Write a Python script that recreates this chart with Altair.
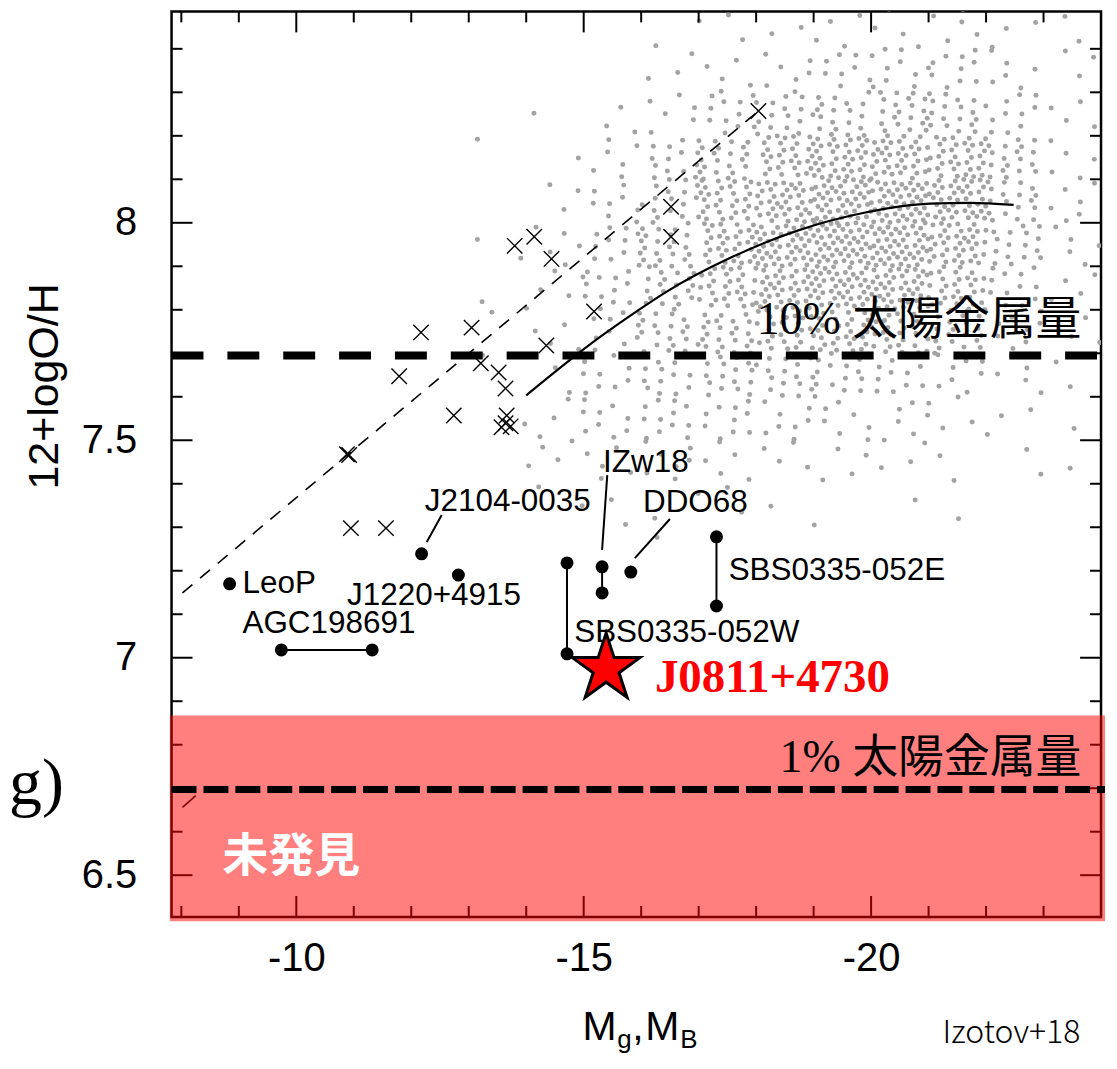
import altair as alt
import pandas as pd

# ---------------- plot geometry ----------------
W, H = 932, 908
X_MIN, X_MAX = -24.0, -7.83
Y_MIN, Y_MAX = 6.404, 8.486

SANS = "Liberation Sans"
SERIF = "Liberation Serif, Noto Sans CJK JP"
CJK = "Noto Sans CJK JP"

# ---------------- axis ticks ----------------
X_MAJOR = [-10, -15, -20]
X_MINOR = [-8, -9, -11, -12, -13, -14, -16, -17, -18, -19, -21, -22, -23]
Y_MAJOR = [6.5, 7.0, 7.5, 8.0]
Y_MINOR = [6.6, 6.7, 6.8, 6.9, 7.1, 7.2, 7.3, 7.4, 7.6, 7.7, 7.8, 7.9, 8.1, 8.2, 8.3, 8.4]

# ---------------- grey galaxy cloud: estimated counts per cell ----------------
# cells are 1 mag wide (from left edge toward brighter) and 0.1 dex high (from bottom edge)
CLOUD_X_EDGES = [-13, -14, -15, -16, -17, -18, -19, -20, -21, -22, -23]
CLOUD_Y_EDGES = [8.4, 8.3, 8.2, 8.1, 8.0, 7.9, 7.8, 7.7, 7.6, 7.5, 7.4, 7.3, 7.2]
CLOUD_COUNTS = [
    [0, 0, 0, 1, 3, 3, 4, 4, 5, 3, 2],
    [0, 0, 0, 3, 5, 7, 9, 10, 10, 6, 3],
    [0, 1, 3, 6, 11, 15, 18, 20, 18, 10, 4],
    [1, 1, 6, 13, 22, 31, 36, 38, 34, 18, 5],
    [0, 3, 8, 17, 29, 40, 46, 48, 41, 18, 6],
    [2, 5, 12, 21, 33, 44, 49, 48, 38, 16, 5],
    [1, 5, 12, 21, 30, 39, 43, 42, 31, 12, 4],
    [1, 4, 10, 18, 23, 29, 29, 27, 20, 8, 3],
    [1, 3, 8, 14, 16, 16, 14, 12, 8, 5, 2],
    [1, 4, 8, 12, 10, 8, 7, 6, 4, 3, 1],
    [0, 4, 5, 7, 5, 4, 4, 3, 2, 2, 1],
    [0, 2, 2, 2, 2, 1, 1, 1, 1, 0, 0],
    [0, 0, 0, 1, 0, 0, 0, 0, 0, 0, 0],
]

# ---------------- crosses ----------------
CROSS_X = [-18.04, -16.52, -16.52, -13.80, -14.14, -14.44, -15.18, -14.35, -13.05,
           -12.17, -13.21, -11.79, -13.52, -13.64, -12.74, -13.66, -13.57, -13.73,
           -13.64, -10.88, -10.92, -10.95, -11.56]
CROSS_Y = [8.257, 8.037, 7.968, 7.947, 7.968, 7.917, 7.796, 7.718, 7.759,
           7.748, 7.677, 7.647, 7.656, 7.619, 7.557, 7.557, 7.530, 7.532,
           7.539, 7.468, 7.466, 7.298, 7.298]

# ---------------- lines ----------------
DASH_X = [-8.02, -18.04]
DASH_Y = [7.149, 8.257]
SEG_X = [-8.02, -8.25]
SEG_Y = [6.656, 6.683]
CURVE_X = [-14.00, -15.25, -15.94, -16.41, -17.56, -18.72, -19.88, -21.02, -21.72, -22.48]
CURVE_Y = [7.603, 7.734, 7.798, 7.839, 7.920, 7.982, 8.023, 8.044, 8.046, 8.041]
LEVEL_10 = 7.695
LEVEL_1 = 6.697

# ---------------- extremely metal-poor galaxies ----------------
GAL_X = [-9.74, -11.32, -8.84, -12.18, -12.82, -14.71, -14.71, -15.32, -15.32, -15.82, -17.31, -17.31]
GAL_Y = [7.018, 7.018, 7.170, 7.239, 7.190, 7.218, 7.009, 7.209, 7.149, 7.197, 7.278, 7.119]
GAL_G = ["AGC", "AGC", "LeoP", "J2104", "J1220", "W", "W", "IZw", "IZw", "DDO", "E", "E"]

LEADER_X = [-12.27, -12.53, -15.32, -15.41, -15.89, -16.50]
LEADER_Y = [7.266, 7.328, 7.248, 7.420, 7.229, 7.319]
LEADER_G = ["a", "a", "b", "b", "c", "c"]

LABEL_TEXT = ["LeoP", "J2104-0035", "J1220+4915", "AGC198691", "IZw18", "DDO68",
              "SBS0335-052E", "SBS0335-052W"]
LABEL_X = [-9.064, -12.236, -10.884, -9.064, -15.338, -16.031, -17.522, -14.835]
LABEL_Y = [7.149, 7.337, 7.121, 7.058, 7.427, 7.335, 7.179, 7.037]

STAR_X = [-15.39]
STAR_Y = [6.975]
STAR_LABEL = ["J0811+4730"]
STAR_LABEL_X = [-16.239]
STAR_LABEL_Y = [6.922]

REGION_X = [-7.80, -24.07]
REGION_Y = [6.394, 6.867]

TXT_10 = ["10% 太陽金属量"]
TXT_1 = ["1% 太陽金属量"]
TXT_UNSEEN = ["未発見"]
TXT_RIGHT_X = -23.66
TXT_10_Y = 7.745
TXT_1_Y = 6.738
UNSEEN_X = -8.717
UNSEEN_Y = 6.509

# ---------------- build data frames ----------------
a1, a2 = 0.7548776662466927, 0.5698402909980532
cx, cy = [], []
n = 0
for r, yb in enumerate(CLOUD_Y_EDGES):
    for c, xl in enumerate(CLOUD_X_EDGES):
        for _ in range(CLOUD_COUNTS[r][c]):
            n += 1
            cx.append(xl - ((0.5 + a1 * n) % 1.0))
            cy.append(yb + 0.1 * ((0.5 + a2 * n) % 1.0))
cloud_df = pd.DataFrame({"x": cx, "y": cy})

xs = alt.Scale(domain=[X_MIN, X_MAX], reverse=True, nice=False, zero=False)
ys = alt.Scale(domain=[Y_MIN, Y_MAX], nice=False, zero=False)
x_axis = alt.Axis(values=X_MAJOR, title=None, grid=False, ticks=False, domain=False,
                  labelFont=SANS, labelFontSize=40, labelColor="black", labelPadding=22,
                  labelExpr="'' + datum.value", labelFlush=False, labelOverlap=False)
y_axis = alt.Axis(values=Y_MAJOR, title=None, grid=False, ticks=False, domain=False,
                  labelFont=SANS, labelFontSize=40, labelColor="black", labelPadding=35,
                  labelExpr="'' + datum.value", labelFlush=False, labelOverlap=False)


def X(f):
    return alt.X(f, type="quantitative", scale=xs, axis=x_axis)


def Y(f):
    return alt.Y(f, type="quantitative", scale=ys, axis=y_axis)


layers = []

# grey cloud
layers.append(alt.Chart(cloud_df).mark_circle(size=25, color="#a3a3a3", opacity=1, clip=True)
              .encode(x=X("x"), y=Y("y")))

# ticks (inward)
xmaj = pd.DataFrame({"v": X_MAJOR})
xmin = pd.DataFrame({"v": X_MINOR})
ymaj = pd.DataFrame({"v": Y_MAJOR})
ymin = pd.DataFrame({"v": Y_MINOR})
for df, ln in ((xmaj, 21), (xmin, 11)):
    layers.append(alt.Chart(df).mark_rule(color="black", strokeWidth=2)
                  .encode(x=X("v"), y=alt.value(H), y2=alt.value(H - ln)))
    layers.append(alt.Chart(df).mark_rule(color="black", strokeWidth=2)
                  .encode(x=X("v"), y=alt.value(0), y2=alt.value(ln)))
for df, ln in ((ymaj, 21), (ymin, 11)):
    layers.append(alt.Chart(df).mark_rule(color="black", strokeWidth=2)
                  .encode(y=Y("v"), x=alt.value(0), x2=alt.value(ln)))
    layers.append(alt.Chart(df).mark_rule(color="black", strokeWidth=2)
                  .encode(y=Y("v"), x=alt.value(W), x2=alt.value(W - ln)))

# thin dashed relation and small segment
layers.append(alt.Chart(pd.DataFrame({"x": DASH_X, "y": DASH_Y}))
              .mark_line(color="black", strokeWidth=1.6, strokeDash=[13, 10], clip=True)
              .encode(x=X("x"), y=Y("y")))
layers.append(alt.Chart(pd.DataFrame({"x": SEG_X, "y": SEG_Y}))
              .mark_line(color="black", strokeWidth=1.6, clip=True)
              .encode(x=X("x"), y=Y("y")))
# solid curve
layers.append(alt.Chart(pd.DataFrame({"x": CURVE_X, "y": CURVE_Y}))
              .mark_line(color="black", strokeWidth=2.2, interpolate="monotone")
              .encode(x=X("x"), y=Y("y")))
# crosses
layers.append(alt.Chart(pd.DataFrame({"x": CROSS_X, "y": CROSS_Y}))
              .mark_point(shape="M-1,-1L1,1M-1,1L1,-1", size=240, filled=False,
                          color="black", strokeWidth=1.4, opacity=1)
              .encode(x=X("x"), y=Y("y")))

gal_df = pd.DataFrame({"x": GAL_X, "y": GAL_Y, "g": GAL_G})
layers.append(alt.Chart(gal_df).mark_line(color="black", strokeWidth=2)
              .encode(x=X("x"), y=Y("y"), detail="g:N"))
layers.append(alt.Chart(pd.DataFrame({"x": LEADER_X, "y": LEADER_Y, "g": LEADER_G}))
              .mark_line(color="black", strokeWidth=2)
              .encode(x=X("x"), y=Y("y"), detail="g:N"))
layers.append(alt.Chart(gal_df).mark_circle(size=170, color="black", opacity=1)
              .encode(x=X("x"), y=Y("y")))
layers.append(alt.Chart(pd.DataFrame({"x": LABEL_X, "y": LABEL_Y, "t": LABEL_TEXT}))
              .mark_text(align="left", baseline="alphabetic", font=SANS, fontSize=31.5, color="black")
              .encode(x=X("x"), y=Y("y"), text="t:N"))

# star
STAR_PATH = ("M0,-1L0.2245,-0.309L0.9511,-0.309L0.3633,0.118L0.5878,0.809L0,0.382"
             "L-0.5878,0.809L-0.3633,0.118L-0.9511,-0.309L-0.2245,-0.309Z")
layers.append(alt.Chart(pd.DataFrame({"x": STAR_X, "y": STAR_Y}))
              .mark_point(shape=STAR_PATH, size=5100, filled=True, fill="#ff0000",
                          stroke="black", strokeWidth=3, opacity=1)
              .encode(x=X("x"), y=Y("y")))
layers.append(alt.Chart(pd.DataFrame({"x": STAR_LABEL_X, "y": STAR_LABEL_Y, "t": STAR_LABEL}))
              .mark_text(align="left", baseline="alphabetic", font="Liberation Serif",
                         fontWeight="bold", fontSize=47, color="#ff0000")
              .encode(x=X("x"), y=Y("y"), text="t:N"))

# 10% solar line and label
layers.append(alt.Chart(pd.DataFrame({"y": [LEVEL_10]}))
              .mark_rule(color="black", strokeWidth=8, strokeDash=[32, 24])
              .encode(y=Y("y"), x=alt.value(0), x2=alt.value(W)))
layers.append(alt.Chart(pd.DataFrame({"x": [TXT_RIGHT_X], "y": [TXT_10_Y], "t": TXT_10}))
              .mark_text(align="right", baseline="alphabetic", font=SERIF, fontSize=46, color="black")
              .encode(x=X("x"), y=Y("y"), text="t:N"))

# red "not found" region
layers.append(alt.Chart(pd.DataFrame({"x": [REGION_X[0]], "x2": [REGION_X[1]],
                                      "y": [REGION_Y[0]], "y2": [REGION_Y[1]]}))
              .mark_rect(color="#ff0000", opacity=0.5)
              .encode(x=X("x"), x2="x2", y=Y("y"), y2="y2"))
layers.append(alt.Chart(pd.DataFrame({"y": [LEVEL_1]}))
              .mark_rule(color="black", strokeWidth=7, strokeDash=[25, 7])
              .encode(y=Y("y"), x=alt.value(0), x2=alt.value(W + 4)))
layers.append(alt.Chart(pd.DataFrame({"x": [TXT_RIGHT_X], "y": [TXT_1_Y], "t": TXT_1}))
              .mark_text(align="right", baseline="alphabetic", font=SERIF, fontSize=46, color="black")
              .encode(x=X("x"), y=Y("y"), text="t:N"))
layers.append(alt.Chart(pd.DataFrame({"x": [UNSEEN_X], "y": [UNSEEN_Y], "t": TXT_UNSEEN}))
              .mark_text(align="left", baseline="alphabetic", font=CJK, fontWeight="bold",
                         fontSize=46, color="white")
              .encode(x=X("x"), y=Y("y"), text="t:N"))

# titles and other free text
def free_text(txt, px, py, **kw):
    return (alt.Chart(pd.DataFrame({"t": [txt]})).mark_text(**kw)
            .encode(x=alt.value(px), y=alt.value(py), text="t:N"))

layers.append(free_text("12+logO/H", -114, 376, angle=270, align="center", baseline="alphabetic",
                        font=SANS, fontSize=43, color="black"))
layers.append(free_text("M", 412, 1031, align="left", baseline="alphabetic", font=SANS,
                        fontSize=41, color="black"))
layers.append(free_text("g", 447, 1039, align="left", baseline="alphabetic", font=SANS,
                        fontSize=26, color="black"))
layers.append(free_text(",", 462, 1031, align="left", baseline="alphabetic", font=SANS,
                        fontSize=41, color="black"))
layers.append(free_text("M", 475, 1031, align="left", baseline="alphabetic", font=SANS,
                        fontSize=41, color="black"))
layers.append(free_text("B", 510, 1039, align="left", baseline="alphabetic", font=SANS,
                        fontSize=26, color="black"))
layers.append(free_text("Izotov+18", 773, 1034, align="left", baseline="alphabetic", font=CJK,
                        fontWeight=300, fontSize=32, color="black"))
layers.append(free_text("g)", -108, 795, align="right", baseline="alphabetic",
                        font="Liberation Serif", fontSize=66, color="black"))

chart = (alt.layer(*layers)
         .properties(width=W, height=H,
                     padding={"left": 164, "top": 2, "right": 8, "bottom": 139},
                     autosize=alt.AutoSizeParams(type="none"))
         .configure_view(stroke="black", strokeWidth=2.5))

chart.save("out.html", embed_options={"renderer": "svg", "actions": False})
